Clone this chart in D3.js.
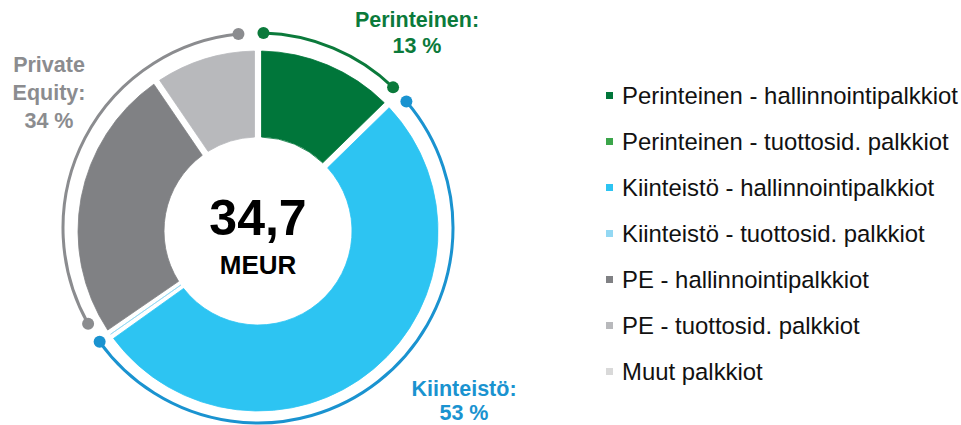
<!DOCTYPE html>
<html>
<head>
<meta charset="utf-8">
<script src="https://cdn.jsdelivr.net/npm/d3@7"></script>
<style>
  body { margin: 0; background: #fff; }
  svg { display: block; font-family: "Liberation Sans", Arial, sans-serif; }
</style>
</head>
<body>
<div id="chart"></div>
<script>
// Fee income split (MEUR)
const categories = [
  "Perinteinen - hallinnointipalkkiot",
  "Perinteinen - tuottosid. palkkiot",
  "Kiinteistö - hallinnointipalkkiot",
  "Kiinteistö - tuottosid. palkkiot",
  "PE - hallinnointipalkkiot",
  "PE - tuottosid. palkkiot",
  "Muut palkkiot"
];
const values = [4.4, 0, 18.2, 0.1, 8.7, 3.3, 0];
const colors = ["#00763a", "#3ba54a", "#2dc4f2", "#93d8f3", "#808184", "#b8b9bc", "#d9d9d9"];

// groups shown with the outer brackets
const groupIndex = [0, 0, 1, 1, 2, 2, -1];
const groupLabels = [["Perinteinen:", "13 %"], ["Kiinteistö:", "53 %"], ["Private", "Equity:", "34 %"]];
const groupColors = ["#0b7a3b", "#1a93d0", "#8b8c8f"];
const unitLabel = "MEUR";

const width = 961;
const height = 425;
const cx = 258, cy = 231;
const outerR = 180, innerR = 94;
const ringCx = 258, ringCy = 228, ringR = 195;
// bracket end gaps (degrees) at start/end of each group
const ringPad = [[1.6, 1.8], [3.9, 1.2], [5.1, 5.75]];
const labelPos = [[417, 27, 26], [464, 395.5, 24.5], [49, 71.5, 28]];

const svg = d3.select("#chart")
  .append("svg")
  .attr("width", width)
  .attr("height", height);

const table = categories.map((c, i) => ({ name: c, value: values[i], color: colors[i], group: groupIndex[i] }));

const pie = d3.pie()
  .sort(null)
  .value(d => d.value);

const arcs = pie(table);

const arc = d3.arc()
  .innerRadius(innerR)
  .outerRadius(outerR)
  .padAngle(7 / outerR)
  .padRadius(outerR);

const donut = svg.append("g")
  .attr("transform", `translate(${cx},${cy})`);

donut.selectAll("path.slice")
  .data(arcs.filter(d => d.data.value > 0))
  .enter()
  .append("path")
  .attr("class", "slice")
  .attr("d", arc)
  .style("fill", d => d.data.color)
  .style("stroke", d => d.data.color)
  .style("stroke-width", 0.8);

// total in the middle
const total = d3.sum(values);
donut.append("text")
  .attr("x", 0)
  .attr("y", 4)
  .attr("text-anchor", "middle")
  .style("font-size", "50px")
  .style("font-weight", "bold")
  .text(total.toFixed(1).replace(".", ","));

donut.append("text")
  .attr("x", 0)
  .attr("y", 43)
  .attr("text-anchor", "middle")
  .style("font-size", "26px")
  .style("font-weight", "bold")
  .text(unitLabel);

// outer brackets per group
const ring = svg.append("g")
  .attr("transform", `translate(${ringCx},${ringCy})`);

const ringArc = d3.arc()
  .innerRadius(ringR)
  .outerRadius(ringR);

groupLabels.forEach((lab, g) => {
  const members = arcs.filter(d => d.data.group === g);
  const a0 = d3.min(members, d => d.startAngle) + ringPad[g][0] * Math.PI / 180;
  const a1 = d3.max(members, d => d.endAngle) - ringPad[g][1] * Math.PI / 180;

  ring.append("path")
    .attr("d", ringArc({ startAngle: a0, endAngle: a1 }))
    .style("fill", "none")
    .style("stroke", groupColors[g])
    .style("stroke-width", 3);

  [a0, a1].forEach(a => {
    ring.append("circle")
      .attr("cx", ringR * Math.sin(a))
      .attr("cy", -ringR * Math.cos(a))
      .attr("r", 6)
      .style("fill", groupColors[g]);
  });

  const [lx, ly, lh] = labelPos[g];
  svg.append("text")
    .attr("text-anchor", "middle")
    .style("font-size", "21.5px")
    .style("font-weight", "bold")
    .style("fill", groupColors[g])
    .selectAll("tspan")
    .data(lab)
    .enter()
    .append("tspan")
    .attr("x", lx)
    .attr("y", (d, i) => ly + i * lh)
    .text(d => d);
});

// legend
const legend = svg.append("g")
  .attr("transform", "translate(606, 104)");

const rows = legend.selectAll("g.row")
  .data(table)
  .enter()
  .append("g")
  .attr("class", "row")
  .attr("transform", (d, i) => `translate(0, ${i * 46})`);

rows.append("rect")
  .attr("x", 0)
  .attr("y", -12)
  .attr("width", 7)
  .attr("height", 7)
  .style("fill", d => d.color);

rows.append("text")
  .attr("x", 16)
  .attr("y", 0)
  .style("font-size", "23.9px")
  .style("fill", "#111")
  .text(d => d.name);
</script>
</body>
</html>
